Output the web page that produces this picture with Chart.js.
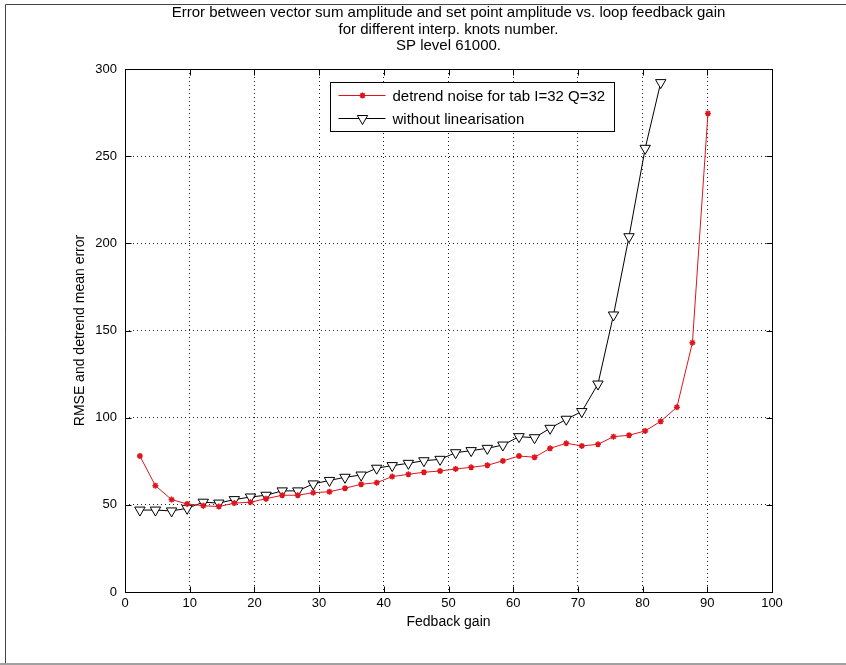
<!DOCTYPE html>
<html>
<head>
<meta charset="utf-8">
<title>Error vs feedback gain</title>
<script src="https://cdn.jsdelivr.net/npm/chart.js@4.4.1/dist/chart.umd.min.js"></script>
<style>
    html, body { margin: 0; padding: 0; background: #ffffff; }
    #errorGraph { display: block; }
</style>
</head>
<body>
<canvas id="errorGraph" width="846" height="665"></canvas>
<script>
// feedback gain values (x)
const gain = [2.3, 4.7, 7.2, 9.6, 12.1, 14.5, 16.9, 19.4, 21.8, 24.3, 26.7, 29.1, 31.6, 34.0, 36.5, 38.9, 41.3, 43.8, 46.2, 48.7, 51.1, 53.5, 56.0, 58.4, 60.9, 63.3, 65.7, 68.2, 70.6, 73.1, 75.5, 77.9, 80.4, 82.8, 85.3, 87.7, 90.1];
// red series: detrend noise for tab I=32 Q=32
const detrendNoise = [78, 61, 53, 50.5, 49.5, 49, 51, 51.5, 53.5, 55.5, 55.5, 57, 57.5, 59.5, 61.8, 62.7, 66.2, 67.5, 68.7, 69.4, 70.6, 71.5, 72.7, 75.2, 78, 77.3, 82.4, 85.3, 83.8, 84.7, 89.1, 89.9, 92.4, 97.9, 106, 143, 274.5];
// black series: without linearisation (stops at gain 82.8)
const withoutLin = [47, 47, 46.5, 48, 51.5, 51, 53, 54.5, 55.5, 58, 58, 62, 64, 65.8, 67.1, 71, 72.5, 73.8, 75.3, 76.1, 79.9, 81.1, 82.4, 84.3, 89.1, 88.5, 93.9, 99.1, 103.5, 119.3, 158.9, 203.8, 254.5, 292.2];

const xTicks = [0, 10, 20, 30, 40, 50, 60, 70, 80, 90, 100];
const yTicks = [0, 50, 100, 150, 200, 250, 300];

const titleLines = [
    "Error between vector sum amplitude and set point amplitude vs. loop feedback gain",
    "for different interp. knots number.",
    "SP level 61000."
];
const xLabel = "Fedback gain";
const yLabel = "RMSE and detrend mean error";
const redLabel = "detrend noise for tab I=32 Q=32";
const blackLabel = "without linearisation";

const fontFamily = '"Liberation Sans", Arial, Helvetica, sans-serif';
Chart.defaults.font.family = fontFamily;
Chart.defaults.color = "#000000";

const redColor = "#e0141c";
const redStyle = { pointStyle: "star", radius: 3, rotation: 0, borderWidth: 1.5 };
const blackStyle = { pointStyle: "triangle", radius: 6, rotation: 180, borderWidth: 1 };

/**
 * @description draws the axes box, the inward ticks, the legend and the figure frame
 */
const matlabFrame = {
    id: "matlabFrame",
    afterDraw(chart) {
        const ctx = chart.ctx;
        const area = chart.chartArea;
        const xs = chart.scales.x;
        const ys = chart.scales.y;
        const tickLen = 6;

        ctx.save();
        // figure frame
        ctx.lineWidth = 1;
        ctx.strokeStyle = "#444444";
        ctx.beginPath();
        ctx.moveTo(5.5, 664);
        ctx.lineTo(5.5, 4.5);
        ctx.lineTo(846, 4.5);
        ctx.stroke();
        ctx.strokeStyle = "#a0a0a0";
        ctx.lineWidth = 2;
        ctx.beginPath();
        ctx.moveTo(0, 664);
        ctx.lineTo(846, 664);
        ctx.stroke();

        // axes box
        ctx.strokeStyle = "#000000";
        ctx.lineWidth = 1;
        const l = Math.round(area.left) + 0.5;
        const r = Math.round(area.right) + 0.5;
        const t = Math.round(area.top) + 0.5;
        const b = Math.round(area.bottom) + 0.5;
        ctx.strokeRect(l, t, r - l, b - t);

        ctx.beginPath();
        xTicks.forEach(function (v) {
            const px = Math.round(xs.getPixelForValue(v)) + 0.5;
            ctx.moveTo(px, b);
            ctx.lineTo(px, b - tickLen);
            ctx.moveTo(px, t);
            ctx.lineTo(px, t + tickLen);
        });
        yTicks.forEach(function (v) {
            const py = Math.round(ys.getPixelForValue(v)) + 0.5;
            ctx.moveTo(l, py);
            ctx.lineTo(l + tickLen, py);
            ctx.moveTo(r, py);
            ctx.lineTo(r - tickLen, py);
        });
        ctx.stroke();

        // legend
        const lx = Math.round(area.left + 205) + 0.5;
        const ly = Math.round(area.top + 13) + 0.5;
        const lw = 284;
        const lh = 49;
        ctx.fillStyle = "#ffffff";
        ctx.fillRect(lx, ly, lw, lh);
        ctx.strokeStyle = "#000000";
        ctx.strokeRect(lx, ly, lw, lh);

        const entries = [
            { label: redLabel, color: redColor, style: redStyle, fill: redColor, y: ly + 13 },
            { label: blackLabel, color: "#000000", style: blackStyle, fill: "#ffffff", y: ly + 36 }
        ];
        ctx.font = "15px " + fontFamily;
        ctx.textBaseline = "middle";
        ctx.textAlign = "left";
        entries.forEach(function (e) {
            ctx.strokeStyle = e.color;
            ctx.lineWidth = 1;
            ctx.beginPath();
            ctx.moveTo(lx + 8, e.y);
            ctx.lineTo(lx + 55, e.y);
            ctx.stroke();
            ctx.fillStyle = e.fill;
            ctx.lineWidth = e.style.borderWidth;
            Chart.helpers.drawPoint(ctx, e.style, lx + 32, e.y);
            ctx.fillStyle = "#000000";
            ctx.fillText(e.label, lx + 62, e.y + 1);
        });
        ctx.restore();
    }
};

const data = {
    datasets: [
        {
            label: redLabel,
            data: detrendNoise.map(function (v, i) {
                return { x: gain[i], y: v };
            }),
            borderColor: redColor,
            backgroundColor: redColor,
            borderWidth: 1,
            pointStyle: redStyle.pointStyle,
            pointRadius: redStyle.radius,
            pointBorderWidth: redStyle.borderWidth,
            tension: 0,
        },
        {
            label: blackLabel,
            data: withoutLin.map(function (v, i) {
                return { x: gain[i], y: v };
            }),
            borderColor: "#000000",
            backgroundColor: "#ffffff",
            borderWidth: 1,
            pointStyle: blackStyle.pointStyle,
            pointRotation: blackStyle.rotation,
            pointRadius: blackStyle.radius,
            pointBorderWidth: blackStyle.borderWidth,
            tension: 0,
        },
    ],
};

const config = {
    type: "line",
    data: data,
    options: {
        responsive: false,
        animation: false,
        devicePixelRatio: 1,
        layout: {
            padding: { top: 0, left: 72, right: 74, bottom: 34 },
        },
        plugins: {
            legend: { display: false },
            tooltip: { enabled: false },
            title: {
                display: true,
                fullSize: false,
                text: titleLines,
                color: "#000000",
                font: { size: 15, weight: "normal", lineHeight: 1.1 },
                padding: { top: 5, bottom: 14.5 },
            },
        },
        scales: {
            x: {
                type: "linear",
                min: 0,
                max: 100,
                afterBuildTicks: function (scale) {
                    scale.ticks = xTicks.map(function (v) { return { value: v }; });
                },
                afterFit: function (scale) {
                    scale.height = 39;
                },
                ticks: {
                    color: "#000000",
                    padding: 4,
                    maxRotation: 0,
                    font: { size: 13 },
                },
                grid: {
                    color: "#222222",
                    drawTicks: false,
                },
                border: { display: false, dash: [1, 3] },
                title: {
                    display: true,
                    text: xLabel,
                    color: "#000000",
                    font: { size: 14 },
                    padding: 0,
                },
            },
            y: {
                type: "linear",
                min: 0,
                max: 300,
                afterBuildTicks: function (scale) {
                    scale.ticks = yTicks.map(function (v) { return { value: v }; });
                },
                afterFit: function (scale) {
                    scale.width = 53;
                },
                ticks: {
                    color: "#000000",
                    padding: 8,
                    font: { size: 13 },
                },
                grid: {
                    color: "#222222",
                    drawTicks: false,
                },
                border: { display: false, dash: [1, 3] },
                title: {
                    display: true,
                    text: yLabel,
                    color: "#000000",
                    font: { size: 14 },
                    padding: 0,
                },
            },
        },
    },
    plugins: [matlabFrame],
};

new Chart(document.getElementById("errorGraph"), config);
</script>
</body>
</html>
